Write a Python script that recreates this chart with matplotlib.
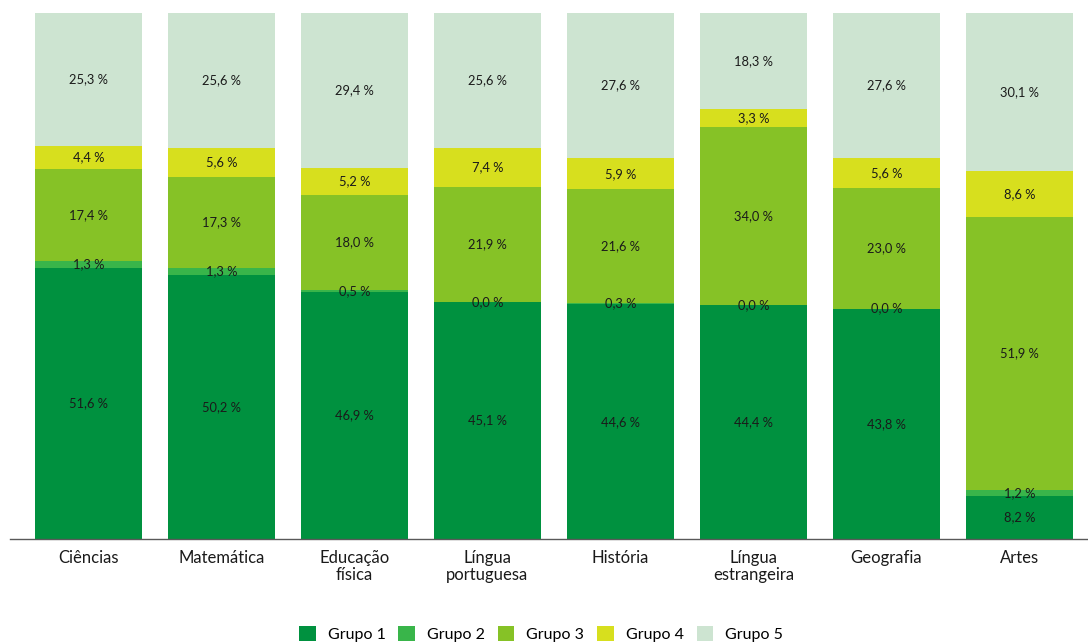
import matplotlib
matplotlib.use("Agg")
import matplotlib.pyplot as plt
import numpy as np
from matplotlib.patches import Patch

plt.rcParams['font.family'] = ['Lato', 'DejaVu Sans']

categories = ["Ciências", "Matemática", "Educação\nfísica", "Língua\nportuguesa",
              "História", "Língua\nestrangeira", "Geografia", "Artes"]
series_names = ["Grupo 1", "Grupo 2", "Grupo 3", "Grupo 4", "Grupo 5"]
grupo1 = [51.6, 50.2, 46.9, 45.1, 44.6, 44.4, 43.8, 8.2]
grupo2 = [1.3, 1.3, 0.5, 0.0, 0.3, 0.0, 0.0, 1.2]
grupo3 = [17.4, 17.3, 18.0, 21.9, 21.6, 34.0, 23.0, 51.9]
grupo4 = [4.4, 5.6, 5.2, 7.4, 5.9, 3.3, 5.6, 8.6]
grupo5 = [25.3, 25.6, 29.4, 25.6, 27.6, 18.3, 27.6, 30.1]
series = [grupo1, grupo2, grupo3, grupo4, grupo5]
colors = ["#00913F", "#39B54A", "#86C226", "#D7DF1E", "#CDE4D1"]

fig = plt.figure(figsize=(10.88, 6.43), dpi=100)
ax = fig.add_axes([10/1088, 1 - 539/643, 1 - 10/1088, 526/643])

x = np.arange(len(categories))
bottom = np.zeros(len(categories))
for vals, col in zip(series, colors):
    vals = np.array(vals)
    ax.bar(x, vals, bottom=bottom, width=0.805, color=col, linewidth=0)
    for xi, b, v in zip(x, bottom, vals):
        ax.text(xi, b + v / 2, f"{v:.1f} %".replace(".", ","), ha="center", va="center",
                fontsize=9.3, color="#1a1a1a")
    bottom += vals

ax.set_xlim(-0.59, 7.515)
ax.set_ylim(0, 100)
ax.set_xticks(x)
ax.set_xticklabels(categories, fontsize=12, color="#1a1a1a", linespacing=1.05)
ax.tick_params(axis="x", length=0, pad=8)
ax.set_yticks([])
for s in ["top", "right", "left"]:
    ax.spines[s].set_visible(False)
ax.spines["bottom"].set_color("#595959")
ax.spines["bottom"].set_linewidth(1.0)

handles = [Patch(facecolor=c, edgecolor="none") for c in colors]
fig.legend(handles, series_names, loc="center", bbox_to_anchor=(541/1088, 1 - 634/643),
           ncol=5, frameon=False, fontsize=11.5, handlelength=1.05, handleheight=1.05,
           handletextpad=0.75, columnspacing=0.8)

fig.savefig("out.png", dpi=100)
